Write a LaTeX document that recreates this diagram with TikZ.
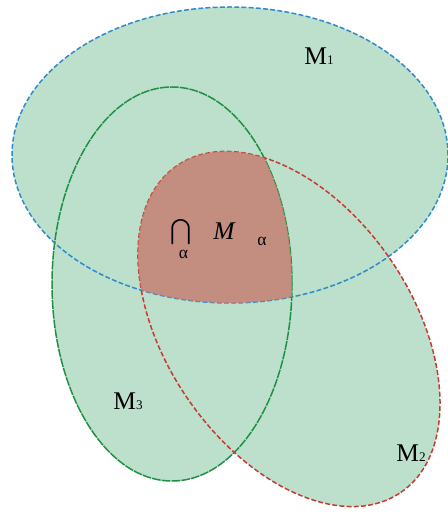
\documentclass[tikz,border=0pt]{standalone}
\usepackage{exscale}
\usepackage{fontspec}
\setmainfont{Liberation Serif}
\usepackage{tikz}
\usetikzlibrary{positioning}
\definecolor{setgreen}{HTML}{BCE0CC}
\definecolor{corered}{HTML}{C57F72}
\definecolor{oneblue}{HTML}{2E8BC8}
\definecolor{threegreen}{HTML}{1F8F45}
\definecolor{twored}{HTML}{C83A30}

\begin{document}
\begin{tikzpicture}[x=0.02cm, y=0.02cm, every node/.style={inner sep=0pt, font=\fontsize{14.5}{17}\selectfont}]
  \useasboundingbox (0,0) rectangle (448,520);
  % Centres of the sets
  \coordinate (c1) at (230,365);
  \coordinate (c2) at (289,191);
  \coordinate (c3) at (172,236);

  % Filled sets
  \fill[setgreen] (c1) ellipse [x radius=218, y radius=148];
  \fill[setgreen] (c3) ellipse [x radius=120, y radius=197];
  \fill[setgreen, rotate around={-55.6:(c2)}] (c2) ellipse [x radius=198, y radius=123];

  % Borders
  \draw[oneblue, line width=0.85pt, dash pattern=on 2.8pt off 1.3pt] (c1) ellipse [x radius=218, y radius=148];
  \draw[threegreen, line width=0.85pt, dash pattern=on 5pt off 0.6pt] (c3) ellipse [x radius=120, y radius=197];
  \draw[twored, line width=0.85pt, dash pattern=on 2.8pt off 1.3pt, rotate around={-55.6:(c2)}] (c2) ellipse [x radius=198, y radius=123];

  % Common part
  \begin{scope}
    \clip (c1) ellipse [x radius=218, y radius=148];
    \clip (c3) ellipse [x radius=120, y radius=197];
    \fill[corered, opacity=0.85, rotate around={-55.6:(c2)}] (c2) ellipse [x radius=198, y radius=123];
  \end{scope}

  % Labels
  \node[anchor=base west] (m1) at (304,455) {M{\fontsize{7.5}{9}\selectfont 1}};
  \node[anchor=base west] (m2) at (396,58) {M{\fontsize{7.5}{9}\selectfont 2}};
  \node[anchor=base west] (m3) at (113,110) {M{\fontsize{7.5}{9}\selectfont 3}};
  \node[font=\fontsize{15.5}{18}\selectfont] (capsym) at (181.5,288) {$\bigcap$};
  \node[font=\fontsize{10}{12}\selectfont] (capidx) at (183.5,266) {α};
  \node[anchor=base west] (mset) at (213,280) {\itshape M};
  \node[anchor=base west, font=\fontsize{10}{12}\selectfont] (midx) at (257,274) {α};
\end{tikzpicture}
\end{document}
